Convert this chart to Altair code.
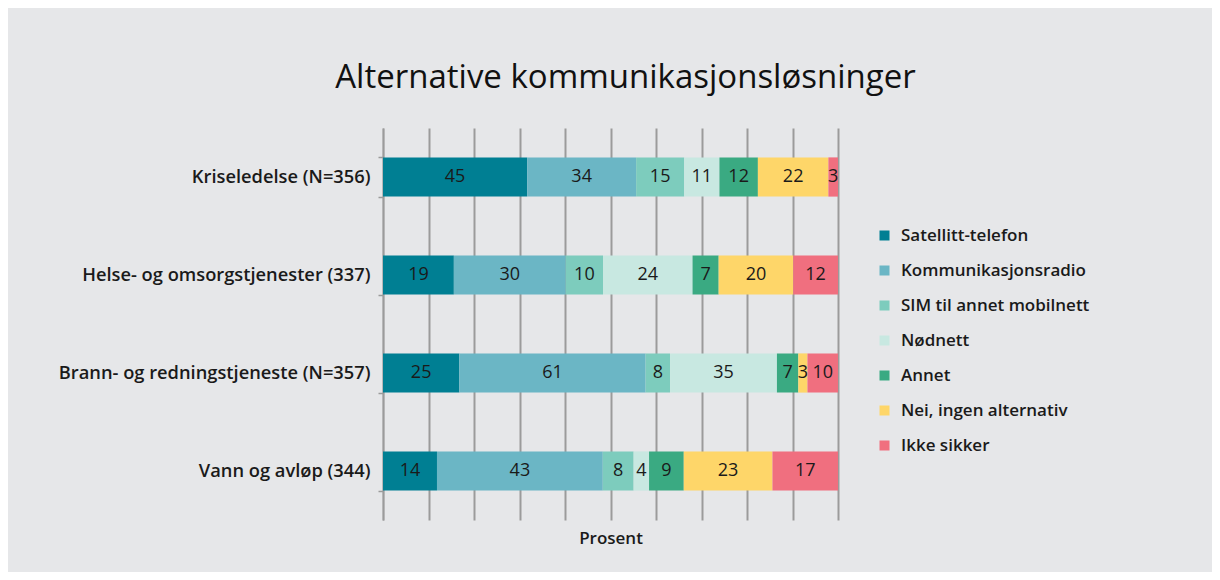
import altair as alt
import pandas as pd

categories = [
    "Kriseledelse (N=356)",
    "Helse- og omsorgstjenester (337)",
    "Brann- og redningstjeneste (N=357)",
    "Vann og avløp (344)",
]
series = [
    "Satellitt-telefon",
    "Kommunikasjonsradio",
    "SIM til annet mobilnett",
    "Nødnett",
    "Annet",
    "Nei, ingen alternativ",
    "Ikke sikker",
]
satellitt = [45, 19, 25, 14]
kommradio = [34, 30, 61, 43]
sim = [15, 10, 8, 8]
nodnett = [11, 24, 35, 4]
annet = [12, 7, 7, 9]
nei = [22, 20, 3, 23]
ikke_sikker = [3, 12, 10, 17]
colors = ["#007f93", "#6bb6c5", "#7dccbd", "#c8e8e1", "#3aaa82", "#fed669", "#f06f7f"]
grid_values = [0, 0.1, 0.2, 0.3, 0.4, 0.5, 0.6, 0.7, 0.8, 0.9, 1.0]

all_series = [satellitt, kommradio, sim, nodnett, annet, nei, ikke_sikker]
rows = []
for si, (name, vals) in enumerate(zip(series, all_series)):
    for ci, cat in enumerate(categories):
        rows.append({"kategori": cat, "serie": name, "verdi": vals[ci], "ordre": si})
df = pd.DataFrame(rows)

FONT = "Open Sans"
BG = "#e6e7e9"

base = alt.Chart(df).transform_stack(
    stack="verdi",
    groupby=["kategori"],
    as_=["x0", "x1"],
    sort=[alt.SortField("ordre", order="ascending")],
    offset="normalize",
).transform_calculate(mid="(datum.x0 + datum.x1) / 2")

y_enc = alt.Y(
    "kategori:N",
    sort=categories,
    scale=alt.Scale(paddingInner=0.6, paddingOuter=0.3),
    axis=alt.Axis(
        title=None,
        tickBand="extent",
        domainColor="#9b9b9b",
        domainWidth=1.5,
        tickColor="#9b9b9b",
        tickWidth=1.5,
        tickSize=5,
        labelFontSize=18.3,
        labelFontWeight=600,
        labelFont=FONT,
        labelColor="#1a1a1a",
        labelPadding=8,
        labelLimit=400,
        grid=False,
    ),
)

bars = base.mark_bar().encode(
    x=alt.X(
        "x0:Q",
        scale=alt.Scale(domain=[0, 1], nice=False),
        axis=alt.Axis(
            values=grid_values,
            grid=True,
            gridColor="#9b9b9b",
            gridWidth=2,
            labels=False,
            ticks=False,
            domain=False,
            title="Prosent",
            titleFont=FONT,
            titleFontSize=17,
            titleFontWeight=600,
            titleColor="#1a1a1a",
            titlePadding=10,
        ),
    ),
    x2="x1:Q",
    y=y_enc,
    color=alt.Color(
        "serie:N",
        scale=alt.Scale(domain=series, range=colors),
        sort=series,
        legend=alt.Legend(
            title=None,
            orient="none",
            legendX=493,
            legendY=99,
            padding=0,
            symbolType="square",
            symbolSize=100,
            symbolStrokeWidth=0,
            labelFont=FONT,
            labelFontSize=17,
            labelFontWeight=600,
            labelColor="#1a1a1a",
            labelOffset=8,
            labelLimit=400,
            rowPadding=17,
        ),
    ),
)

labels = base.mark_text(font=FONT, fontSize=18, color="#1a1a1a").encode(
    x=alt.X("mid:Q"),
    y=alt.Y("kategori:N", sort=categories),
    text="verdi:Q",
)

chart = (
    alt.layer(bars, labels)
    .properties(
        width=455,
        height=392,
        autosize=alt.AutoSizeParams(type="none"),
        padding={"left": 375, "top": 120, "right": 374, "bottom": 52},
        background=BG,
        title=alt.TitleParams(
            "Alternative kommunikasjonsløsninger",
            font=FONT,
            fontSize=33,
            fontWeight="normal",
            color="#111111",
            anchor="middle",
            dx=15,
            offset=23,
        ),
    )
    .configure_view(strokeWidth=0)
)

chart.save("out.html", embed_options={"renderer": "svg", "actions": False})
